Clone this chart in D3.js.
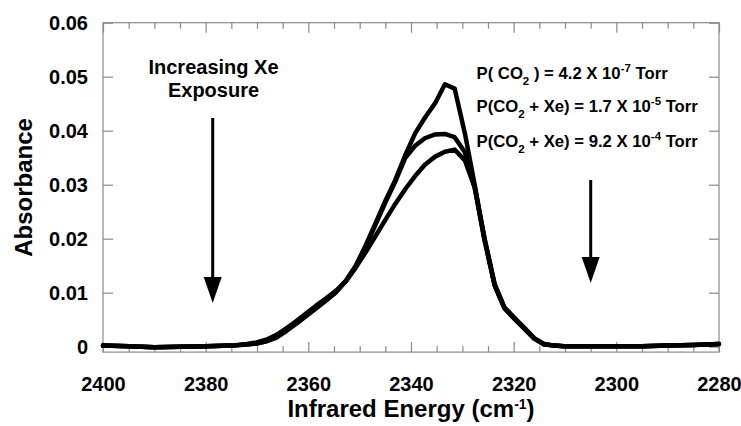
<!DOCTYPE html>
<html><head><meta charset="utf-8">
<script src="https://cdn.jsdelivr.net/npm/d3@7"></script>
<style>body{margin:0;background:#fff}svg{display:block}text{font-family:Arial,"Liberation Sans",sans-serif;font-weight:bold}</style>
</head><body>
<svg id="c" width="741" height="426"></svg>
<script>
const wavenumbers = [2400,2395,2390,2385,2380,2375,2372.0,2370.1,2368.2,2366.2,2364.3,2362.4,2360.4,2358.5,2356.6,2354.7,2352.7,2350.8,2348.9,2346.9,2345.0,2343.1,2341.1,2339.2,2337.3,2335.3,2333.4,2331.5,2329.5,2327.6,2325.7,2323.7,2321.8,2319.9,2317.9,2316.0,2314.1,2312.1,2310.2,2305,2300,2295,2290,2285,2280];
const absCO2 = [0.0002,0.0001,-0.0001,0.0000,0.0001,0.0002,0.0004,0.0006,0.0010,0.0017,0.0029,0.0042,0.0057,0.0071,0.0085,0.0100,0.0121,0.0149,0.0186,0.0229,0.0270,0.0308,0.0355,0.0395,0.0424,0.0451,0.0486,0.0478,0.0395,0.0300,0.0202,0.0116,0.0073,0.0054,0.0035,0.0016,0.0005,0.0002,0.0001,0.0001,0.0001,0.0001,0.0002,0.0003,0.0005];
const absXe1 = [0.0002,0.0001,-0.0001,0.0000,0.0001,0.0002,0.0004,0.0006,0.0010,0.0018,0.0030,0.0043,0.0058,0.0072,0.0086,0.0101,0.0122,0.0149,0.0184,0.0226,0.0267,0.0305,0.0350,0.0372,0.0386,0.0393,0.0394,0.0388,0.0360,0.0295,0.0200,0.0114,0.0072,0.0053,0.0034,0.0015,0.0005,0.0002,0.0001,0.0001,0.0001,0.0001,0.0002,0.0003,0.0005];
const absXe2 = [0.0002,0.0001,-0.0001,0.0000,0.0001,0.0002,0.0005,0.0008,0.0013,0.0022,0.0034,0.0047,0.0062,0.0076,0.0089,0.0103,0.0121,0.0146,0.0174,0.0205,0.0235,0.0264,0.0292,0.0316,0.0337,0.0352,0.0361,0.0365,0.0345,0.0295,0.0198,0.0113,0.0071,0.0052,0.0033,0.0015,0.0004,0.0002,0.0001,0.0001,0.0001,0.0001,0.0002,0.0003,0.0005];
const series = [absCO2, absXe1, absXe2];
const xMajor = [2400,2380,2360,2340,2320,2300,2280];
const yMajor = [0,0.01,0.02,0.03,0.04,0.05,0.06];
const yLabels = ["0","0.01","0.02","0.03","0.04","0.05","0.06"];

const svg = d3.select("#c");
const L=103, R=719, T=22.7, B=352.1;
const x = d3.scaleLinear().domain([2400,2280]).range([L,R]);
const y = d3.scaleLinear().domain([-0.001,0.06]).range([B,T]);
const gray="#8a8a8a";

svg.append("rect").attr("x",L).attr("y",T).attr("width",R-L).attr("height",B-T)
  .attr("fill","none").attr("stroke",gray).attr("stroke-width",1.2);

const xMinor = d3.range(2400,2279,-5).filter(v=>!xMajor.includes(v));
const styleTicks = g=>{g.select(".domain").remove();g.selectAll("line").attr("stroke",gray).attr("stroke-width",1.2);};
const gb = svg.append("g").attr("transform",`translate(0,${B})`)
  .call(d3.axisBottom(x).tickValues(xMajor).tickSize(-10).tickSizeOuter(0).tickFormat(d=>d));
styleTicks(gb);
gb.selectAll("text").attr("font-size",20).attr("fill","#000").attr("y",0).attr("dy",null)
  .attr("transform","translate(0,39)");
svg.append("g").attr("transform",`translate(0,${B})`)
  .call(d3.axisBottom(x).tickValues(xMinor).tickSize(-6).tickFormat("")).call(styleTicks);
svg.append("g").attr("transform",`translate(0,${T})`)
  .call(d3.axisTop(x).tickValues(xMajor).tickSize(-10).tickFormat("")).call(styleTicks);
svg.append("g").attr("transform",`translate(0,${T})`)
  .call(d3.axisTop(x).tickValues(xMinor).tickSize(-6).tickFormat("")).call(styleTicks);
const gl = svg.append("g").attr("transform",`translate(${L},0)`)
  .call(d3.axisLeft(y).tickValues(yMajor).tickSize(-10).tickFormat((d,i)=>yLabels[i]));
styleTicks(gl);
gl.selectAll("text").attr("font-size",20).attr("fill","#000").attr("x",-15).attr("dy","0.36em");
svg.append("g").attr("transform",`translate(${R},0)`)
  .call(d3.axisRight(y).tickValues(yMajor).tickSize(-10).tickFormat("")).call(styleTicks);

const line = d3.line().x((d,i)=>x(wavenumbers[i])).y(d=>y(d));
svg.append("g").selectAll("path").data(series).join("path")
  .attr("d",line).attr("fill","none").attr("stroke","#000").attr("stroke-width",4.5)
  .attr("stroke-linejoin","round").attr("stroke-linecap","round");

svg.append("text").attr("x",(L+R)/2).attr("y",417).attr("text-anchor","middle").attr("font-size",24)
  .call(t=>{t.append("tspan").text("Infrared Energy (cm");
            t.append("tspan").attr("font-size",14).attr("dy",-8).text("-1");
            t.append("tspan").attr("dy",8).text(")");});
svg.append("text").attr("transform",`translate(32,${(T+B)/2}) rotate(-90)`).attr("text-anchor","middle")
  .attr("font-size",24).text("Absorbance");

svg.append("text").attr("x",213.5).attr("y",74).attr("text-anchor","middle").attr("font-size",20).text("Increasing Xe");
svg.append("text").attr("x",213.5).attr("y",97).attr("text-anchor","middle").attr("font-size",20).text("Exposure");

function arrow(cx, y0, y1){
  svg.append("line").attr("x1",cx).attr("x2",cx).attr("y1",y0).attr("y2",y1-20).attr("stroke","#000").attr("stroke-width",3);
  svg.append("path").attr("d",`M${cx-9},${y1-26}L${cx+9},${y1-26}L${cx},${y1}Z`).attr("fill","#000");
}
arrow(212.7,118,303);
arrow(590.7,180,283);

const legends = [
  {a:"P( CO", b:" ) = 4.2 X 10", e:"-7", y:79},
  {a:"P(CO", b:" + Xe) = 1.7 X 10", e:"-5", y:112},
  {a:"P(CO", b:" + Xe) = 9.2 X 10", e:"-4", y:147}
];
legends.forEach(l=>{
  const t = svg.append("text").attr("x",476.5).attr("y",l.y).attr("font-size",16.7);
  t.append("tspan").text(l.a);
  t.append("tspan").attr("font-size",11.5).attr("dy",6).text("2");
  t.append("tspan").attr("dy",-6).text(l.b);
  t.append("tspan").attr("font-size",11.5).attr("dy",-7).text(l.e);
  t.append("tspan").attr("dy",7).text(" Torr");
});
</script>
</body></html>
